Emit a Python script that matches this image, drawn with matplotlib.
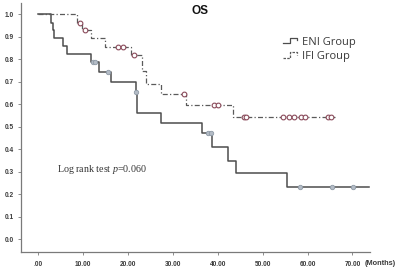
import numpy as np
import matplotlib
matplotlib.use("Agg")
from matplotlib import pyplot as plt
from matplotlib.lines import Line2D
from matplotlib.legend_handler import HandlerBase

# ENI group: event times (months) and survival after each step
eni_t = [0, 2.8, 3.3, 3.6, 5.4, 6.3, 11.7, 13.5, 16.2, 21.7, 22.0, 27.3, 36.4, 38.8, 42.2, 44.0, 55.3]
eni_s = [1.0, 0.963, 0.93, 0.893, 0.859, 0.822, 0.787, 0.745, 0.70, 0.656, 0.56, 0.515, 0.471, 0.41, 0.349, 0.293, 0.234]
eni_cens = [12.1, 12.7, 15.6, 21.85, 37.9, 38.5, 58.4, 65.5, 70.2]
eni_end = 73.7

# IFI group
ifi_t = [0, 8.6, 9.8, 11.7, 14.9, 20.6, 23.1, 24.0, 27.4, 33.0, 43.4]
ifi_s = [1.0, 0.963, 0.93, 0.893, 0.856, 0.82, 0.75, 0.689, 0.645, 0.597, 0.545]
ifi_cens = [9.3, 10.4, 17.8, 18.9, 21.3, 32.4, 39.2, 40.0, 45.8, 46.3,
            54.6, 55.9, 57.0, 58.5, 59.5, 64.6, 65.2]
ifi_end = 66.0

x_ticks = [0, 10, 20, 30, 40, 50, 60, 70]
x_labels = [".00", "10.00", "20.00", "30.00", "40.00", "50.00", "60.00", "70.00"]
y_ticks = [0.0, 0.1, 0.2, 0.3, 0.4, 0.5, 0.6, 0.7, 0.8, 0.9, 1.0]

ENI_COLOR = "#4d4d4d"
IFI_COLOR = "#5a5a5a"
IFI_DASH = (0, (4, 1.8, 1, 1.8))


def surv_at(t, s, x):
    idx = np.searchsorted(t, x, side="right") - 1
    return np.asarray(s)[idx]


class StepHandler(HandlerBase):
    def __init__(self, ls, **kw):
        super().__init__(**kw)
        self.ls = ls

    def create_artists(self, legend, orig_handle, xdescent, ydescent,
                       width, height, fontsize, trans):
        w, h = width, height
        xs = np.array([0, 0.45, 0.45, 1.0, 1.0]) * w - xdescent
        ys = np.array([0.15, 0.15, 0.85, 0.85, 0.55]) * h - ydescent
        ln = Line2D(xs, ys, color=orig_handle.get_color(), lw=0.9, linestyle=self.ls)
        ln.set_transform(trans)
        return [ln]


plt.rcParams["mathtext.fontset"] = "custom"
plt.rcParams["mathtext.it"] = "Liberation Serif:italic"
plt.rcParams["mathtext.rm"] = "Liberation Serif"

fig = plt.figure(figsize=(3.98, 2.71), dpi=100)
ax = fig.add_axes([21 / 398, 19 / 271, 349 / 398, 249 / 271])

# step curves
eni_x = list(eni_t) + [eni_end]
eni_y = list(eni_s) + [eni_s[-1]]
l1, = ax.step(eni_x, eni_y, where="post", color=ENI_COLOR, lw=1.1)
ifi_x = list(ifi_t) + [ifi_end]
ifi_y = list(ifi_s) + [ifi_s[-1]]
l2, = ax.step(ifi_x, ifi_y, where="post", color=IFI_COLOR, lw=0.9, linestyle=IFI_DASH)

# censor marks
ax.plot(eni_cens, surv_at(eni_t, eni_s, eni_cens), "o", ms=3.2,
        mfc="#b4bcc6", mec="#8e9aa6", mew=0.6, ls="none")
ax.plot(ifi_cens, surv_at(ifi_t, ifi_s, ifi_cens), "o", ms=3.4,
        mfc="white", mec="#8a4a5a", mew=0.8, ls="none")

ax.set_xlim(-3.85, 73.9)
ax.set_ylim(-0.056, 1.05)
ax.set_xticks(x_ticks)
ax.set_xticklabels(x_labels)
ax.set_yticks(y_ticks)
ax.set_yticklabels([f"{v:.1f}" for v in y_ticks])

for sp in ["top", "right"]:
    ax.spines[sp].set_visible(False)
for sp in ["left", "bottom"]:
    ax.spines[sp].set_color("#7a7a7a")
    ax.spines[sp].set_linewidth(0.9)

ax.tick_params(axis="both", length=2.2, width=0.6, color="#7a7a7a",
               labelsize=4.7, labelcolor="#3a3a3a")
ax.tick_params(axis="y", pad=3.0)
ax.tick_params(axis="x", pad=4.0)
for lab in ax.get_xticklabels() + ax.get_yticklabels():
    lab.set_fontfamily("Liberation Sans")
    lab.set_fontweight("bold")

leg = ax.legend([l1, l2], ["ENI Group", "IFI Group"], loc="upper left",
                bbox_to_anchor=(252 / 349, 0.905), frameon=False,
                handler_map={l1: StepHandler("-"), l2: StepHandler((0, (2, 1)))},
                handlelength=1.3, handletextpad=0.4, labelspacing=0.3,
                prop={"family": "Open Sans", "size": 8})
for t in leg.get_texts():
    t.set_color("#3a3a3a")

ax.text(56.7 / 398, 1 - 169.5 / 271, r"Log rank test $\it{p}$=0.060",
        transform=fig.transFigure, fontsize=7.2, family="Liberation Serif",
        color="#333333", va="center", ha="left")

fig.text(200 / 398, 1 - 11 / 271, "OS", fontsize=8.5, fontweight="bold",
         family="Liberation Sans", color="#111111", ha="center", va="center")
fig.text(365 / 398, 1 - 263.5 / 271, "(Months)", fontsize=5.3, fontweight="bold",
         family="Liberation Sans", color="#3a3a3a", ha="left", va="center")

fig.savefig("out.png", dpi=100)
